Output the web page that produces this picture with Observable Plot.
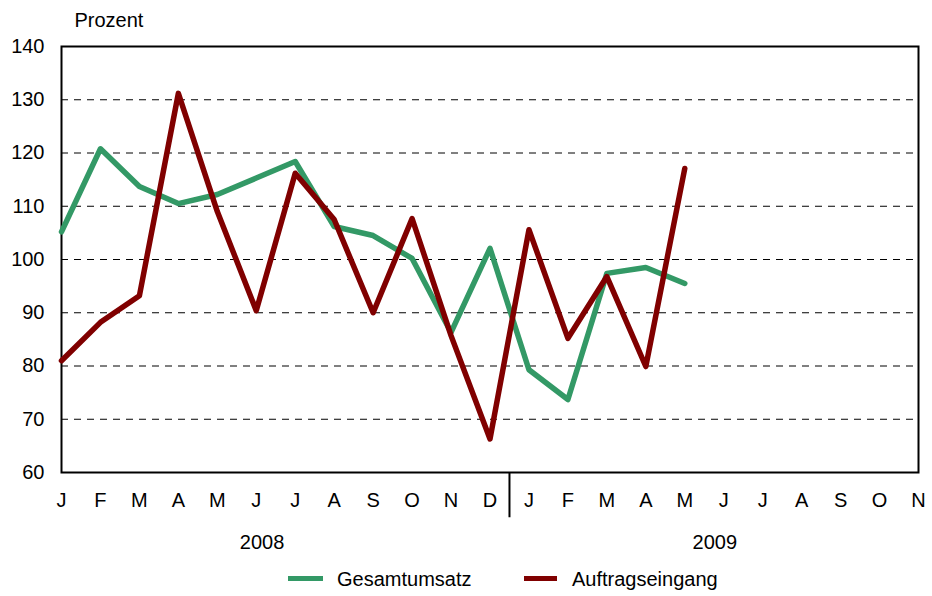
<!DOCTYPE html>
<html>
<head>
<meta charset="utf-8">
<script src="https://cdn.jsdelivr.net/npm/d3@7"></script>
<script src="https://cdn.jsdelivr.net/npm/@observablehq/plot@0.6"></script>
<style>
  body { margin: 0; background: white; font-family: "Liberation Sans", Arial, sans-serif; }
  #legend { position: relative; width: 932px; height: 36px; font-size: 20px; color: black; }
  .sw { position: absolute; height: 5px; top: 16px; }
  .lt { position: absolute; top: 8px; line-height: 22px; }
</style>
</head>
<body>
<div id="chart"></div>
<div id="legend">
  <div class="sw" style="left:288px;width:35px;background:#339966"></div>
  <div class="lt" style="left:337px">Gesamtumsatz</div>
  <div class="sw" style="left:524px;width:33px;background:#800000"></div>
  <div class="lt" style="left:572px">Auftragseingang</div>
</div>
<script>
const months = ["J","F","M","A","M","J","J","A","S","O","N","D","J","F","M","A","M","J","J","A","S","O","N"];
const years = ["2008", "2009"];
const yTicks = [60, 70, 80, 90, 100, 110, 120, 130, 140];
const gesamtumsatz = [105.2, 120.8, 113.7, 110.5, 112.2, 115.3, 118.4, 106.2, 104.5, 100.2, 86.3, 102.1, 79.3, 73.7, 97.4, 98.5, 95.5];
const auftragseingang = [81.0, 88.2, 93.2, 131.2, 109.0, 90.4, 116.2, 107.5, 90.0, 107.7, 85.7, 66.3, 105.6, 85.2, 96.8, 79.9, 117.1];

const gridTicks = yTicks.filter(v => v > 60 && v < 140);
const yearPos = [5.15, 16.77];

const chart = Plot.plot({
  width: 932,
  height: 560,
  marginLeft: 61,
  marginRight: 14,
  marginTop: 46,
  marginBottom: 88,
  style: { fontFamily: "Liberation Sans, Arial, sans-serif", fontSize: "20px", color: "black", background: "white" },
  x: { domain: [0, months.length - 1] },
  y: { domain: [60, 140] },
  marks: [
    Plot.ruleY(gridTicks, { stroke: "black", strokeWidth: 1, strokeDasharray: "7,6" }),
    Plot.frame({ stroke: "black", strokeWidth: 2 }),
    Plot.axisY({ ticks: yTicks, tickSize: 0, tickPadding: 17, label: null }),
    Plot.axisX({ ticks: d3.range(months.length), tickSize: 0, tickPadding: 20, tickFormat: i => months[i], label: null }),
    Plot.ruleX([11.5], { y1: 60, y2: 51.5, stroke: "black", strokeWidth: 2 }),
    Plot.line(gesamtumsatz, { x: (d, i) => i, y: d => d, stroke: "#339966", strokeWidth: 5.5 }),
    Plot.line(auftragseingang, { x: (d, i) => i, y: d => d, stroke: "#800000", strokeWidth: 5.5 }),
    Plot.text(years, { x: (d, i) => yearPos[i], frameAnchor: "bottom", dy: 76, text: d => d }),
    Plot.text(["Prozent"], { frameAnchor: "top-left", dx: 13, dy: -34, textAnchor: "start", text: d => d })
  ]
});
document.getElementById("chart").appendChild(chart);
</script>
</body>
</html>
